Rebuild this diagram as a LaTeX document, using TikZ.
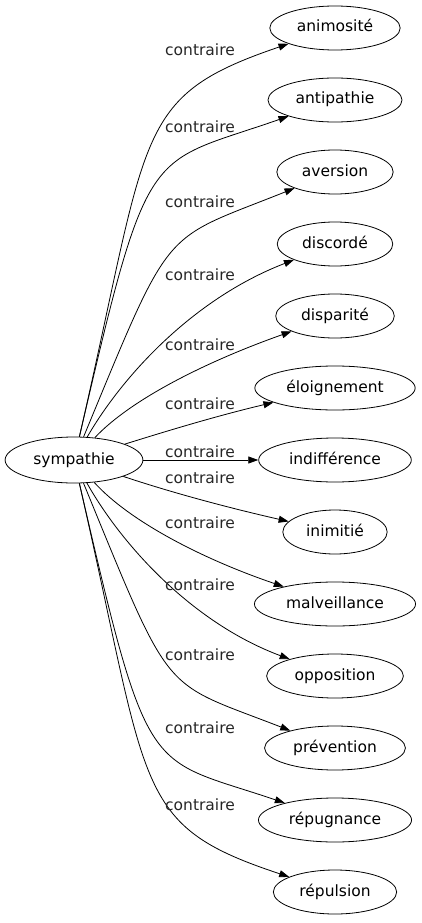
\documentclass[tikz,border=0pt]{standalone}
\usepackage{fontspec}
\setsansfont{DejaVu Sans}
\usetikzlibrary{arrows.meta, shapes.geometric}

\begin{document}
\begin{tikzpicture}[
    x=1pt, y=-1pt,
    every node/.style={font=\sffamily\fontsize{15.5}{18}\selectfont},
    word/.style={ellipse, draw=black, line width=0.8pt, inner xsep=8pt, inner ysep=2pt, minimum height=44pt, text height=11.5pt, text depth=3.5pt},
    rel/.style={-{Triangle[length=10pt, width=7pt]}, line width=0.8pt},
    lab/.style={inner sep=0pt, text height=11.5pt, text depth=0pt, text=black!85}
]
\useasboundingbox (0,0) rectangle (421,923);

% Source word
\node[word, minimum height=46pt] (sym) at (74,460) {sympathie};

% Opposite words
\node[word] (anim)  at (335,28)  {animosité};
\node[word] (antip) at (335,100) {antipathie};
\node[word] (avers) at (335,172) {aversion};
\node[word] (disc)  at (335,244) {discordé};
\node[word] (disp)  at (335,316) {disparité};
\node[word] (eloi)  at (335,388) {éloignement};
\node[word] (indif) at (335,460) {indifférence};
\node[word] (inim)  at (335,532) {inimitié};
\node[word] (malv)  at (335,604) {malveillance};
\node[word] (oppo)  at (335,676) {opposition};
\node[word] (prev)  at (335,748) {prévention};
\node[word] (repug) at (335,820) {répugnance};
\node[word] (repul) at (335,892) {répulsion};

% Relations
\draw[rel] (sym) .. controls (150,130) and (132,97) .. (anim);
\draw[rel] (sym) .. controls (149,137) and (146,166) .. (antip);
\draw[rel] (sym) .. controls (173,221) and (160,242) .. (avers);
\draw[rel] (sym) .. controls (120,380) and (190,300) .. (disc);
\draw[rel] (sym) .. controls (130,400) and (205,362) .. (disp);
\draw[rel] (sym) .. controls (170,430) and (220,415) .. (eloi);
\draw[rel] (sym) -- (indif);
\draw[rel] (sym) .. controls (170,492) and (225,507) .. (inim);
\draw[rel] (sym) .. controls (130,522) and (205,560) .. (malv);
\draw[rel] (sym) .. controls (120,542) and (190,622) .. (oppo);
\draw[rel] (sym) .. controls (173,701) and (160,680) .. (prev);
\draw[rel] (sym) .. controls (149,785) and (146,756) .. (repug);
\draw[rel] (sym) .. controls (150,792) and (132,825) .. (repul);

% Relation labels
\node[lab] (l1)  at (200,50)  {contraire};
\node[lab] (l2)  at (200,127) {contraire};
\node[lab] (l3)  at (200,202) {contraire};
\node[lab] (l4)  at (200,275) {contraire};
\node[lab] (l5)  at (200,345) {contraire};
\node[lab] (l6)  at (200,404) {contraire};
\node[lab] (l7)  at (200,452) {contraire};
\node[lab] (l8)  at (200,478) {contraire};
\node[lab] (l9)  at (200,523) {contraire};
\node[lab] (l10) at (200,585) {contraire};
\node[lab] (l11) at (200,655) {contraire};
\node[lab] (l12) at (200,728) {contraire};
\node[lab] (l13) at (200,805) {contraire};
\end{tikzpicture}
\end{document}
